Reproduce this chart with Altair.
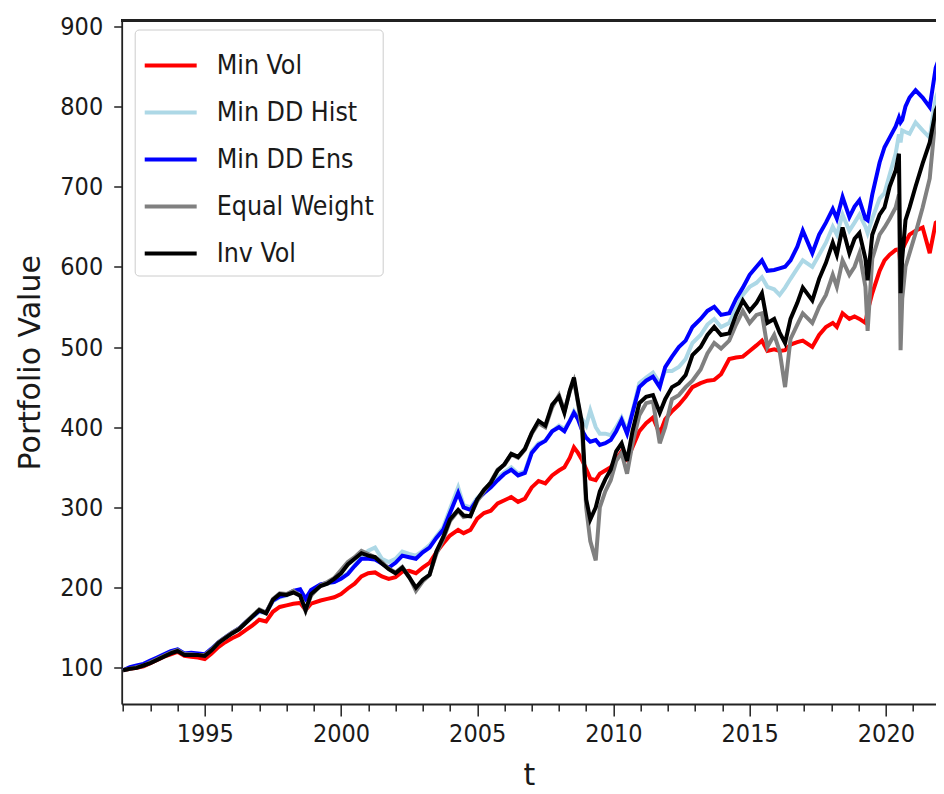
import altair as alt
import pandas as pd

years = [1992.0, 1992.25, 1992.5, 1992.75, 1993.0, 1993.25, 1993.5, 1993.75, 1994.0, 1994.25,
         1994.5, 1994.75, 1995.0, 1995.25, 1995.5, 1995.75, 1996.0, 1996.25, 1996.5, 1996.75,
         1997.0, 1997.25, 1997.5, 1997.75, 1998.0, 1998.25, 1998.5, 1998.7, 1998.9, 1999.25,
         1999.5, 1999.75, 2000.0, 2000.25, 2000.5, 2000.75, 2001.0, 2001.25, 2001.5, 2001.75,
         2002.0, 2002.25, 2002.5, 2002.75, 2003.0, 2003.25, 2003.5, 2003.75, 2004.0, 2004.3,
         2004.5, 2004.75, 2005.0, 2005.25, 2005.5, 2005.75, 2006.0, 2006.25, 2006.5, 2006.75,
         2007.0, 2007.25, 2007.5, 2007.75, 2008.0, 2008.2, 2008.4, 2008.55, 2008.7, 2008.85,
         2009.0, 2009.15, 2009.35, 2009.5, 2009.7, 2009.9, 2010.1, 2010.3, 2010.5, 2010.7,
         2010.95, 2011.2, 2011.45, 2011.7, 2011.9, 2012.15, 2012.4, 2012.65, 2012.9, 2013.2,
         2013.45, 2013.7, 2013.95, 2014.25, 2014.5, 2014.75, 2015.0, 2015.25, 2015.45, 2015.65,
         2015.9, 2016.1, 2016.3, 2016.5, 2016.75, 2016.95, 2017.3, 2017.55, 2017.8, 2018.05,
         2018.2, 2018.41, 2018.66, 2018.85, 2019.03, 2019.25, 2019.33, 2019.5, 2019.77, 2019.95,
         2020.14, 2020.36, 2020.48, 2020.54, 2020.6, 2020.72, 2020.87, 2021.09, 2021.35, 2021.61,
         2021.83, 2021.97, 2022.1, 2022.25]

min_vol = [97, 99, 100, 102, 106, 110, 114, 117, 120, 115,
           114, 113, 111, 118, 126, 132, 137, 141, 147, 153,
           160, 158, 170, 176, 178, 180, 181, 172, 180, 184,
           186, 188, 192, 199, 205, 214, 218, 219, 214, 211,
           213, 220, 221, 218, 225, 231, 244, 255, 265, 272,
           268, 272, 286, 293, 296, 305, 309, 313, 307, 311,
           325, 333, 330, 340, 346, 350, 362, 375, 368, 359,
           348, 336, 334, 342, 346, 350, 360, 370, 360, 375,
           395, 405, 412, 392, 410, 420, 428, 438, 450, 455,
           458, 459, 466, 485, 487, 488, 495, 502, 508, 495,
           497, 495, 496, 503, 506, 508, 500, 515, 525, 530,
           525, 542, 535, 538, 535, 530, 545, 567, 595, 608,
           615, 621, 622, 600, 621, 630, 640, 645, 649, 617,
           655, 658, 662, 667]

min_dd_hist = [97, 100, 102, 104, 108, 112, 116, 120, 123, 118,
               118, 117, 116, 123, 131, 137, 143, 148, 156, 163,
               170, 168, 183, 188, 190, 195, 197, 186, 196, 203,
               205, 207, 212, 218, 228, 238, 246, 250, 236, 232,
               236, 245, 242, 240, 246, 253, 264, 275, 298, 325,
               303, 300, 312, 320, 328, 337, 344, 350, 342, 345,
               370, 380, 383, 395, 402, 398, 408, 420, 412, 410,
               402, 421, 400, 392, 392, 390, 400, 412, 396, 420,
               455, 462, 468, 455, 470, 470, 475, 485, 505, 515,
               528, 535, 525, 530, 548, 565, 575, 580, 587, 575,
               572, 565, 574, 585, 598, 608, 600, 615, 630, 650,
               640, 665, 645, 655, 665, 650, 642, 660, 685, 692,
               715, 741, 765, 755, 770, 768, 766, 780, 770, 761,
               810, 824, 812, 805]

min_dd_ens = [97, 101, 103, 105, 109, 113, 117, 121, 123, 118,
              119, 118, 117, 124, 132, 138, 144, 149, 157, 164,
              171, 169, 184, 189, 191, 196, 198, 186, 197, 204,
              206, 207, 211, 217, 227, 236, 236, 235, 230, 225,
              231, 240, 238, 236, 244, 250, 262, 272, 293, 318,
              300, 297, 310, 318, 325, 334, 342, 347, 340, 343,
              368, 378, 383, 395, 400, 395, 408, 418, 410, 396,
              387, 382, 384, 378, 380, 384, 395, 409, 392, 418,
              450, 458, 463, 450, 475, 488, 500, 508, 525, 535,
              545, 550, 540, 542, 560, 574, 590, 600, 608, 595,
              596, 598, 600, 608, 625, 645, 617, 640, 655, 672,
              660, 687, 662, 675, 683, 660, 658, 690, 730, 749,
              761, 775, 786, 780, 783, 800, 811, 820, 811, 799,
              848, 861, 858, 860]

equal_weight = [97, 99, 101, 103, 107, 111, 115, 119, 122, 117,
                117, 116, 116, 123, 132, 138, 144, 149, 157, 165,
                173, 169, 186, 193, 192, 196, 190, 171, 190, 203,
                207, 212, 222, 232, 238, 246, 242, 238, 232, 224,
                219, 226, 214, 196, 208, 216, 242, 260, 283, 296,
                288, 290, 308, 320, 332, 347, 353, 366, 362, 372,
                392, 405, 400, 425, 440, 420, 445, 458, 430, 395,
                300, 258, 234, 300, 320, 334, 358, 368, 342, 380,
                415, 430, 432, 380, 400, 435, 440, 450, 458, 472,
                492, 505, 498, 508, 528, 545, 530, 540, 542, 500,
                515, 495, 450, 510, 528, 542, 530, 550, 565, 590,
                575, 608, 590, 600, 617, 575, 520, 610, 640, 649,
                660, 674, 690, 496, 560, 600, 617, 642, 674, 710,
                790, 811, 840, 849]

inv_vol = [97, 99, 100, 103, 106, 110, 114, 118, 121, 116,
           116, 116, 115, 122, 131, 137, 143, 148, 156, 164,
           172, 168, 185, 192, 191, 194, 190, 172, 192, 202,
           205, 211, 218, 229, 236, 243, 240, 238, 230, 223,
           218, 225, 213, 200, 210, 216, 245, 263, 285, 297,
           290, 289, 310, 322, 331, 346, 354, 367, 363, 373,
           393, 408, 402, 428, 438, 418, 446, 462, 432, 405,
           310, 285, 300, 320, 335, 347, 370, 380, 358, 395,
           430, 438, 440, 418, 435, 450, 455, 465, 490, 500,
           515, 525, 515, 517, 540, 558, 545, 555, 567, 530,
           535, 518, 505, 535, 555, 574, 558, 585, 605, 630,
           615, 649, 617, 635, 642, 610, 583, 640, 665, 674,
           700, 720, 741, 567, 610, 658, 674, 700, 729, 755,
           795, 805, 822, 832]

series_names = ["Min Vol", "Min DD Hist", "Min DD Ens", "Equal Weight", "Inv Vol"]
series_colors = ["#ff0000", "#add8e6", "#0000ff", "#808080", "#000000"]
series_values = [min_vol, min_dd_hist, min_dd_ens, equal_weight, inv_vol]

y_ticks = [100, 200, 300, 400, 500, 600, 700, 800, 900]
x_ticks = list(range(1992, 2023))

rows = []
for k, (name, vals) in enumerate(zip(series_names, series_values)):
    for t, v in zip(years, vals):
        rows.append({"t": t, "value": v, "series": name, "k": k})
df = pd.DataFrame(rows)

W = 814.3
H = 683.5
FONT = "DejaVu Sans Condensed, DejaVu Sans"
TFONT = "DejaVu Sans"
AX = "#222222"

x_scale = alt.Scale(domain=[1991.95, 2021.84], nice=False, zero=False)
y_scale = alt.Scale(domain=[55, 907], nice=False, zero=False)

lines = alt.Chart(df).mark_line(strokeWidth=4, clip=True).encode(
    x=alt.X("t:Q", scale=x_scale,
            axis=alt.Axis(title="t", values=x_ticks, format="d",
                          labelExpr="datum.value % 5 === 0 ? datum.label : ''",
                          tickSize={"condition": {"test": "datum.value % 5 === 0", "value": 12}, "value": 7},
                          labelPadding=5, titlePadding=14, grid=False)),
    y=alt.Y("value:Q", scale=y_scale,
            axis=alt.Axis(title="Portfolio Value", values=y_ticks, tickSize=8,
                          labelPadding=11, titlePadding=14, grid=False)),
    color=alt.Color("series:N",
                    scale=alt.Scale(domain=series_names, range=series_colors),
                    legend=alt.Legend(title=None, orient="none", legendX=13, legendY=9,
                                      symbolType="stroke", symbolSize=2700,
                                      symbolStrokeWidth=4, labelFontSize=26.5,
                                      labelFont=FONT, labelColor="#1a1a1a",
                                      labelOffset=18, rowPadding=5, padding=8,
                                      strokeColor="#cccccc", fillColor="white",
                                      cornerRadius=4)),
    detail="k:O",
    order="t:Q",
)

top_border = alt.Chart(df).mark_rule(color=AX, strokeWidth=1.5).encode(
    x=alt.value(0), x2=alt.value(W), y=alt.value(0)
)

chart = alt.layer(lines, top_border).properties(
    width=W, height=H,
    autosize=alt.AutoSizeParams(type="none"),
    padding={"left": 113.7, "top": 12.5, "right": 0, "bottom": 88},
).configure_view(stroke=None).configure_axis(
    labelFont=FONT, labelFontSize=25, labelColor="#1a1a1a",
    titleFont=TFONT, titleFontSize=30, titleFontWeight="normal", titleColor="#1a1a1a",
    domainColor=AX, domainWidth=1.8, tickColor=AX, tickWidth=1.5,
)

chart.save("out.html", embed_options={"renderer": "svg", "actions": False})
